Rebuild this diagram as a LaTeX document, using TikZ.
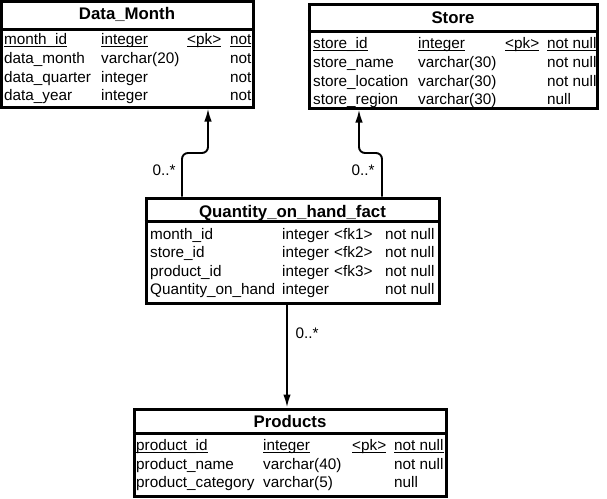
\documentclass[tikz,border=0pt]{standalone}
\usepackage{fontspec}
\setmainfont{Liberation Sans}
\usetikzlibrary{arrows.meta}
\newcommand\myul[1]{\setbox0\hbox{#1}\rlap{\rule[-2.4pt]{\wd0}{0.9pt}}\box0}
\begin{document}
\begin{tikzpicture}[x=1pt,y=-1pt,
 tbl/.style={draw, line width=3pt, inner sep=0pt, fill=white},
 cell/.style={anchor=base west, inner sep=0pt, font=\fontsize{15.3}{17}\selectfont},
 ttl/.style={anchor=base, inner sep=0pt, font=\bfseries\fontsize{16.8}{19}\selectfont},
 sep/.style={line width=3pt},
 conn/.style={line width=1.9pt, rounded corners=6pt},
 arr/.style={-{Latex[length=13pt,width=7.5pt]}},
 mult/.style={inner sep=0pt, font=\fontsize{15.3}{17}\selectfont}]
\useasboundingbox (0,0) rectangle (607,498);

% Data_Month
\node[tbl, minimum width=251.5pt, minimum height=105.5pt] (dm) at (127.25,54.25) {};
\draw[sep] (dm.west |- 0,29) -- (dm.east |- 0,29);
\node[ttl] (dmt) at (127,19) {Data\_Month};
\node[cell] (dm11) at (4,44) {\myul{month\_id}};
\node[cell] (dm12) at (101,44) {\myul{integer}};
\node[cell] (dm13) at (187,44) {\myul{<pk>}};
\node[cell] (dm14) at (230,44) {\myul{not}};
\node[cell] (dm21) at (4,63) {data\_month};
\node[cell] (dm22) at (101,63) {varchar(20)};
\node[cell] (dm24) at (230,63) {not};
\node[cell] (dm31) at (4,82) {data\_quarter};
\node[cell] (dm32) at (101,82) {integer};
\node[cell] (dm34) at (230,82) {not};
\node[cell] (dm41) at (4,100.5) {data\_year};
\node[cell] (dm42) at (101,100.5) {integer};
\node[cell] (dm44) at (230,100.5) {not};

% Store
\node[tbl, minimum width=288pt, minimum height=104pt] (st) at (453,56) {};
\draw[sep] (st.west |- 0,31) -- (st.east |- 0,31);
\node[ttl] (stt) at (453,23.5) {Store};
\node[cell] (st11) at (313,48.5) {\myul{store\_id}};
\node[cell] (st12) at (418,48.5) {\myul{integer}};
\node[cell] (st13) at (505,48.5) {\myul{<pk>}};
\node[cell] (st14) at (547,48.5) {\myul{not null}};
\node[cell] (st21) at (313,67.5) {store\_name};
\node[cell] (st22) at (418,67.5) {varchar(30)};
\node[cell] (st24) at (547,67.5) {not null};
\node[cell] (st31) at (313,86) {store\_location};
\node[cell] (st32) at (418,86) {varchar(30)};
\node[cell] (st34) at (547,86) {not null};
\node[cell] (st41) at (313,104.5) {store\_region};
\node[cell] (st42) at (418,104.5) {varchar(30)};
\node[cell] (st44) at (547,104.5) {null};

% Quantity_on_hand_fact
\node[tbl, minimum width=293pt, minimum height=105pt] (qf) at (292.5,250.5) {};
\draw[sep] (qf.west |- 0,221) -- (qf.east |- 0,221);
\node[ttl] (qft) at (292.5,217) {Quantity\_on\_hand\_fact};
\node[cell] (qf11) at (150,239) {month\_id};
\node[cell] (qf12) at (282,239) {integer};
\node[cell] (qf13) at (334,239) {<fk1>};
\node[cell] (qf14) at (385,239) {not null};
\node[cell] (qf21) at (150,257.5) {store\_id};
\node[cell] (qf22) at (282,257.5) {integer};
\node[cell] (qf23) at (334,257.5) {<fk2>};
\node[cell] (qf24) at (385,257.5) {not null};
\node[cell] (qf31) at (150,276) {product\_id};
\node[cell] (qf32) at (282,276) {integer};
\node[cell] (qf33) at (334,276) {<fk3>};
\node[cell] (qf34) at (385,276) {not null};
\node[cell] (qf41) at (150,294.5) {Quantity\_on\_hand};
\node[cell] (qf42) at (282,294.5) {integer};
\node[cell] (qf44) at (385,294.5) {not null};

% Products
\node[tbl, minimum width=312pt, minimum height=87pt] (pr) at (290,452.5) {};
\draw[sep] (pr.west |- 0,433) -- (pr.east |- 0,433);
\node[ttl] (prt) at (290,427) {Products};
\node[cell] (pr11) at (136,450.5) {\myul{product\_id}};
\node[cell] (pr12) at (263,450.5) {\myul{integer}};
\node[cell] (pr13) at (352,450.5) {\myul{<pk>}};
\node[cell] (pr14) at (394,450.5) {\myul{not null}};
\node[cell] (pr21) at (136,469) {product\_name};
\node[cell] (pr22) at (263,469) {varchar(40)};
\node[cell] (pr24) at (394,469) {not null};
\node[cell] (pr31) at (136,487.5) {product\_category};
\node[cell] (pr32) at (263,487.5) {varchar(5)};
\node[cell] (pr34) at (394,487.5) {null};

% connectors
\draw[conn, arr] (qf.north -| 182,0) -- (182,153) -- (208,153) -- (dm.south -| 208,0);
\draw[conn, arr] (qf.north -| 382,0) -- (382,153) -- (359,153) -- (st.south -| 359,0);
\draw[line width=1.9pt, arr] (qf.south -| 287,0) -- (pr.north -| 287,0);

\node[mult] (m1) at (164,170) {0..*};
\node[mult] (m2) at (363,170) {0..*};
\node[mult] (m3) at (307,333) {0..*};
\end{tikzpicture}
\end{document}
